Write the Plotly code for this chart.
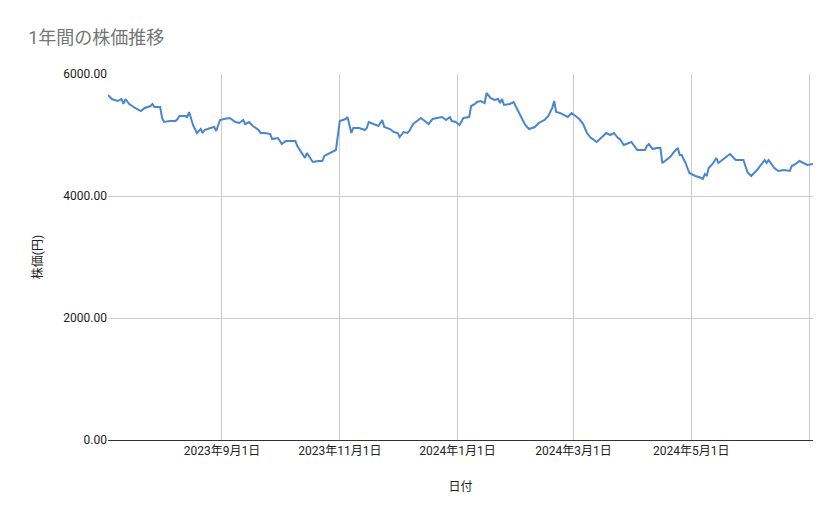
import pandas as pd
import plotly.graph_objects as go

# Days since the first date in the series, and the price on that day
start_date = "2023-07-04"
day_offsets = [0, 2, 5, 7, 8, 9, 11, 14, 17, 19, 22, 23, 24, 27, 28, 29, 32, 35, 36, 37,
               40, 41, 42, 44, 46, 48, 49, 50, 53, 55, 56, 58, 60, 63, 66, 68, 70, 71, 73, 75,
               78, 79, 81, 84, 85, 88, 90, 92, 94, 97, 98, 100, 102, 103, 106, 109, 111, 112, 114, 116,
               118, 120, 123, 124, 126, 127, 130, 133, 134, 135, 138, 140, 142, 143, 146, 148, 150, 151, 153, 155,
               156, 158, 160, 162, 164, 166, 168, 172, 173, 175, 177, 178, 180, 182, 184, 187, 188, 190, 191, 193,
               195, 196, 198, 200, 202, 203, 204, 205, 208, 210, 212, 216, 218, 221, 223, 226, 228, 230, 231, 232,
               234, 236, 238, 240, 242, 244, 246, 248, 250, 251, 253, 255, 258, 260, 262, 264, 265, 267, 270, 271,
               274, 278, 279, 280, 282, 284, 286, 287, 289, 291, 293, 295, 296, 297, 299, 301, 304, 306, 308, 309,
               310, 311, 313, 315, 316, 318, 322, 323, 325, 327, 329, 331, 333, 336, 338, 340, 341, 342, 345, 347,
               350, 353, 354, 356, 358, 360, 362, 365]
prices = [5656, 5590, 5557, 5590, 5508, 5590, 5508, 5443, 5393, 5443, 5475, 5508, 5459, 5459, 5279, 5213, 5229, 5229, 5262, 5311,
          5311, 5295, 5377, 5164, 5033, 5098, 5033, 5082, 5115, 5131, 5066, 5246, 5262, 5279, 5213, 5197, 5246, 5180, 5213, 5148,
          5082, 5033, 5033, 5016, 4934, 4951, 4852, 4902, 4902, 4902, 4820, 4721, 4623, 4705, 4557, 4574, 4574, 4656, 4688, 4721,
          4754, 5229, 5262, 5295, 5033, 5115, 5115, 5082, 5115, 5213, 5180, 5148, 5246, 5131, 5098, 5049, 5033, 4967, 5049, 5033,
          5066, 5180, 5229, 5279, 5229, 5180, 5262, 5279, 5295, 5246, 5295, 5229, 5213, 5164, 5279, 5295, 5475, 5508, 5541, 5557,
          5524, 5689, 5607, 5574, 5590, 5524, 5590, 5492, 5508, 5541, 5410, 5164, 5098, 5131, 5197, 5246, 5311, 5443, 5557, 5377,
          5361, 5328, 5295, 5361, 5311, 5262, 5180, 5033, 4951, 4934, 4885, 4951, 5033, 5000, 5033, 4951, 4934, 4836, 4869, 4885,
          4754, 4754, 4820, 4852, 4770, 4787, 4787, 4541, 4590, 4639, 4721, 4787, 4672, 4672, 4541, 4377, 4328, 4311, 4279, 4361,
          4328, 4459, 4525, 4623, 4541, 4590, 4688, 4656, 4590, 4590, 4590, 4393, 4328, 4426, 4508, 4590, 4541, 4590, 4459, 4410,
          4426, 4410, 4492, 4525, 4574, 4541, 4508, 4525]

dates = pd.to_datetime(start_date) + pd.to_timedelta(day_offsets, unit="D")

# Tick positions on the date axis
tick_dates = ["2023-09-01", "2023-11-01", "2024-01-01", "2024-03-01", "2024-05-01", "2024-07-01"]
tick_labels = ["2023年9月1日", "2023年11月1日", "2024年1月1日", "2024年3月1日", "2024年5月1日", ""]

font = "Roboto, 'Noto Sans CJK JP', sans-serif"

fig = go.Figure()
fig.add_trace(go.Scatter(
    x=dates, y=prices, mode="lines",
    line=dict(color="#4a86cf", width=2),
    showlegend=False,
))

fig.update_layout(
    width=839, height=519,
    paper_bgcolor="white", plot_bgcolor="white",
    margin=dict(l=100, r=34, t=66, b=87),
    font=dict(family=font, size=12, color="#222222"),
    title=dict(text="1年間の株価推移", x=0.024, y=0.955, xanchor="left",
               font=dict(family=font, size=18, color="#757575")),
)
fig.update_xaxes(
    range=[dates[0], dates[-1]],
    tickvals=tick_dates, ticktext=tick_labels,
    showgrid=True, gridcolor="#cccccc", gridwidth=1,
    showline=True, linecolor="#333333", linewidth=1,
    tickfont=dict(size=12, color="#222222"),
    title=dict(text="日付", font=dict(size=12, color="#222222"), standoff=25),
)
fig.update_yaxes(
    range=[0, 6000], tickvals=[0, 2000, 4000, 6000], tickformat=".2f",
    showgrid=True, gridcolor="#cccccc", gridwidth=1,
    zeroline=False, ticks="", ticklen=6,
    tickfont=dict(size=12, color="#222222"),
    title=dict(text="株価(円)", font=dict(size=12, color="#222222"), standoff=18),
)

fig.write_html("out.html")
